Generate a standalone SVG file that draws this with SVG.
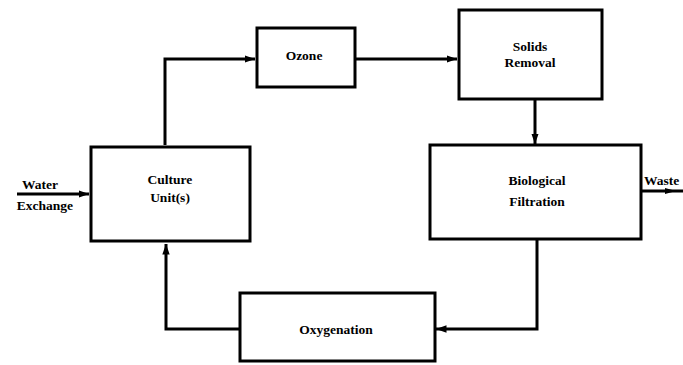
<svg xmlns="http://www.w3.org/2000/svg" width="683" height="365" viewBox="0 0 683 365">
<style>
.box{fill:#fff;stroke:#000;stroke-width:3}
.ln{fill:none;stroke:#000;stroke-width:3}
text{font-family:"Liberation Serif","DejaVu Serif",serif;font-weight:bold;font-size:13.5px;fill:#000;text-anchor:middle}
</style>
<defs>
<marker id="ah" viewBox="0 0 10 10" refX="10" refY="5" markerWidth="3.5" markerHeight="3.5" markerUnits="strokeWidth" orient="auto">
<path d="M0,1.5 L10,5 L0,8.5 z" fill="#000"/>
</marker>
</defs>
<rect width="683" height="365" fill="#fff"/>
<g id="connectors">
<path class="ln" d="M165,145 V59 H255" marker-end="url(#ah)"/>
<path class="ln" d="M355,59 H457" marker-end="url(#ah)"/>
<path class="ln" d="M535,99 V144" marker-end="url(#ah)"/>
<path class="ln" d="M537,240 V329 H436" marker-end="url(#ah)"/>
<path class="ln" d="M240,329 H166 V244" marker-end="url(#ah)"/>
<path class="ln" d="M17,194 H89" marker-end="url(#ah)"/>
<path class="ln" d="M641,191 H683"/>
<path d="M665,188 L676,191 L665,194 z" fill="#000"/>
</g>
<g id="culture">
<rect class="box" x="91" y="147" width="159" height="94"/>
<text x="170" y="184">Culture</text>
<text x="170" y="202">Unit(s)</text>
</g>
<g id="ozone">
<rect class="box" x="257" y="28" width="98" height="59"/>
<text x="304" y="60">Ozone</text>
</g>
<g id="solids">
<rect class="box" x="459" y="10" width="143" height="89"/>
<text x="530" y="51">Solids</text>
<text x="530" y="67">Removal</text>
</g>
<g id="bio">
<rect class="box" x="430" y="145" width="211" height="94"/>
<text x="537" y="185">Biological</text>
<text x="537" y="206">Filtration</text>
</g>
<g id="oxygenation">
<rect class="box" x="240" y="293" width="195" height="68"/>
<text x="336" y="334">Oxygenation</text>
</g>
<g id="water">
<text x="40" y="189">Water</text>
<text x="45" y="210">Exchange</text>
</g>
<g id="waste">
<text x="644" y="185" style="text-anchor:start">Waste</text>
</g>
</svg>
